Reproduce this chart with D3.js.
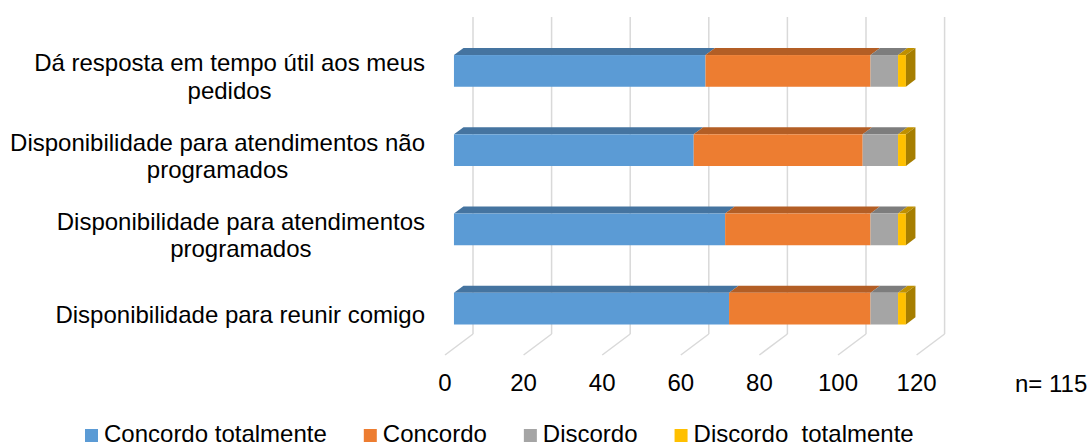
<!DOCTYPE html>
<html lang="pt">
<head>
    <meta charset="UTF-8">
    <title>Disponibilidade - gráfico de barras 3D</title>
    <style>
        body {
            margin: 0;
            padding: 0;
            overflow: hidden;
            background: #fff;
            font-family: "Liberation Sans", Arial, sans-serif;
        }

        .grid {
            stroke: #d9d9d9;
            stroke-width: 1.5px;
            fill: none;
        }

        .label {
            font-size: 24px;
            fill: #000;
            white-space: pre;
        }
    </style>
    <script src="https://d3js.org/d3.v7.min.js"></script>
</head>
<body>
    <div id="chart"></div>

    <script>
        // Data
        const categories = [
            "Dá resposta em tempo útil aos meus pedidos",
            "Disponibilidade para atendimentos não programados",
            "Disponibilidade para atendimentos programados",
            "Disponibilidade para reunir comigo"
        ];
        const categoryLines = [
            ["Dá resposta em tempo útil aos meus", "pedidos"],
            ["Disponibilidade para atendimentos não", "programados"],
            ["Disponibilidade para atendimentos", "programados"],
            ["Disponibilidade para reunir comigo"]
        ];
        const seriesNames = ["Concordo totalmente", "Concordo", "Discordo", "Discordo  totalmente"];
        const concordoTotalmente = [64, 61, 69, 70];
        const concordo = [42, 43, 37, 36];
        const discordo = [7, 9, 7, 7];
        const discordoTotalmente = [2, 2, 2, 2];
        const xTicks = [0, 20, 40, 60, 80, 100, 120];
        const sampleNote = "n= 115";

        // colours: front, top, side
        const frontColors = ["#5b9bd5", "#ed7d31", "#a5a5a5", "#ffc000"];
        const topColors = ["#4574a0", "#b35e25", "#7d7d7d", "#bf9000"];
        const sideColors = ["#3d6890", "#a0541f", "#707070", "#a67e00"];

        const width = 1091, height = 447;

        const svg = d3.select('#chart')
            .append('svg')
            .attr('width', width)
            .attr('height', height);

        // depth of the 3D box (pixels for the full depth) and bar depth slice
        const DX = 28, DY = -21;
        const d1 = 0.32, d2 = 0.66;

        const x = d3.scaleLinear().domain([0, 120]).range([445, 916.6]);
        const y = d3.scaleBand()
            .domain(categories)
            .range([38, 355])
            .paddingInner(0.6)
            .paddingOuter(0.3);

        const floorY = y.range()[1];
        const topY = y.range()[0];

        // back wall gridlines + floor lines
        const grid = svg.append('g');
        xTicks.forEach(t => {
            grid.append('line').attr('class', 'grid')
                .attr('x1', x(t) + DX).attr('y1', topY + DY)
                .attr('x2', x(t) + DX).attr('y2', floorY + DY);
            grid.append('line').attr('class', 'grid')
                .attr('x1', x(t) + DX).attr('y1', floorY + DY)
                .attr('x2', x(t)).attr('y2', floorY);
        });

        // stacked data
        const rows = categories.map((c, i) => ({
            cat: c,
            [seriesNames[0]]: concordoTotalmente[i],
            [seriesNames[1]]: concordo[i],
            [seriesNames[2]]: discordo[i],
            [seriesNames[3]]: discordoTotalmente[i]
        }));
        const stacked = d3.stack().keys(seriesNames)(rows);

        const fdx = d1 * DX, fdy = d1 * DY;
        const bdx = d2 * DX, bdy = d2 * DY;
        const pts = p => p.map(q => q.join(',')).join(' ');

        const bars = svg.append('g');
        categories.forEach((cat, ci) => {
            const y0 = y(cat) + fdy;
            const y1 = y0 + y.bandwidth();
            const g = bars.append('g');

            stacked.forEach((s, si) => {
                const a = x(s[ci][0]) + fdx, b = x(s[ci][1]) + fdx;
                if (b - a <= 0) return;
                // top face
                g.append('polygon')
                    .attr('points', pts([[a, y0], [b, y0], [b + bdx - fdx, y0 + bdy - fdy], [a + bdx - fdx, y0 + bdy - fdy]]))
                    .attr('fill', topColors[si]);
                // front face
                g.append('rect')
                    .attr('x', a).attr('y', y0)
                    .attr('width', b - a).attr('height', y1 - y0)
                    .attr('fill', frontColors[si]);
            });

            // right end side face (last series)
            const last = stacked.length - 1;
            const e = x(stacked[last][ci][1]) + fdx;
            const ox = bdx - fdx, oy = bdy - fdy;
            g.append('polygon')
                .attr('points', pts([[e, y0], [e + ox, y0 + oy], [e + ox, y1 + oy], [e, y1]]))
                .attr('fill', sideColors[last]);
        });

        // category labels
        const labelRight = 425;
        const lineH = 27.3;
        const labels = svg.append('g');
        categories.forEach((cat, ci) => {
            const lines = categoryLines[ci];
            const cy = y(cat) + fdy + y.bandwidth() / 2;
            const t = labels.append('text').attr('class', 'label');
            const spans = lines.map((ln, li) => t.append('tspan')
                .attr('y', cy + 14 + (li - (lines.length - 1) / 2) * lineH)
                .text(ln));
            const maxW = d3.max(spans, sp => sp.node().getComputedTextLength());
            t.attr('text-anchor', 'middle');
            spans.forEach(sp => sp.attr('x', labelRight - maxW / 2));
        });

        // value axis labels (front edge of floor)
        svg.append('g').selectAll('text')
            .data(xTicks)
            .enter().append('text')
            .attr('class', 'label')
            .attr('text-anchor', 'middle')
            .attr('x', d => x(d))
            .attr('y', floorY + 35.5)
            .text(d => d);

        svg.append('text')
            .attr('class', 'label')
            .attr('x', 1015)
            .attr('y', floorY + 37)
            .text(sampleNote);

        // legend
        const legend = svg.append('g');
        let lx = 85;
        seriesNames.forEach((name, i) => {
            legend.append('rect')
                .attr('x', lx).attr('y', 429)
                .attr('width', 13).attr('height', 13)
                .attr('fill', frontColors[i]);
            const t = legend.append('text')
                .attr('class', 'label')
                .attr('x', lx + 19)
                .attr('y', 442)
                .text(name);
            lx += 19 + t.node().getComputedTextLength() + 37;
        });
    </script>
</body>
</html>
